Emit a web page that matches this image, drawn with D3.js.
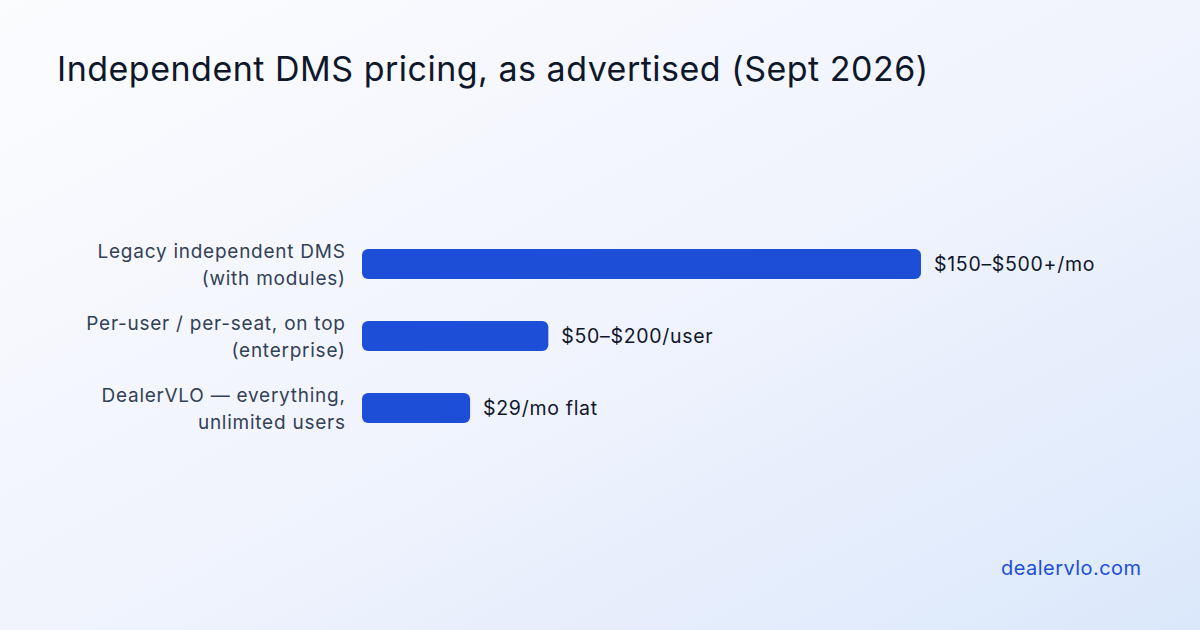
<!DOCTYPE html>
<html>
<head>
<meta charset="utf-8">
<script src="https://cdn.jsdelivr.net/npm/d3@7"></script>
<style>
  html, body { margin: 0; padding: 0; }
  body { width: 1200px; height: 630px; overflow: hidden; font-family: Inter, "Noto Sans", sans-serif; }
</style>
</head>
<body>
<div id="chart"></div>
<script>
// categories (two lines each) and advertised starting price used for bar length
const categories = [
	["Legacy independent DMS", "(with modules)"],
	["Per-user / per-seat, on top", "(enterprise)"],
	["DealerVLO \u2014 everything,", "unlimited users"]
];
const values = [150, 50, 29];
const valueLabels = ["$150\u2013$500+/mo", "$50\u2013$200/user", "$29/mo flat"];

const W = 1200, H = 630;

const svg = d3.select("#chart")
	.append("svg")
	.attr("width", W)
	.attr("height", H);

// background gradient
const grad = svg.append("defs")
	.append("linearGradient")
	.attr("id", "bg")
	.attr("x1", "0%").attr("y1", "0%")
	.attr("x2", "100%").attr("y2", "100%");
grad.append("stop").attr("offset", "0%").attr("stop-color", "#fbfcfe");
grad.append("stop").attr("offset", "50%").attr("stop-color", "#f1f4fd");
grad.append("stop").attr("offset", "100%").attr("stop-color", "#dbe8fb");

svg.append("rect")
	.attr("width", W)
	.attr("height", H)
	.attr("fill", "url(#bg)");

svg.append("text")
	.attr("x", 57)
	.attr("y", 81)
	.style("font-size", "34px")
	.style("letter-spacing", "0.5px")
	.style("fill", "#0f172a")
	.text("Independent DMS pricing, as advertised (Sept 2026)");

// scales
const x = d3.scaleLinear()
	.domain([0, d3.max(values)])
	.range([362, 921]);

const y = d3.scaleBand()
	.domain(d3.range(values.length))
	.range([228, 444])
	.paddingInner(0.5834)
	.paddingOuter(0.2917);

const rows = svg.selectAll("g.row")
	.data(values.map((v, i) => ({v, i})))
	.join("g")
	.attr("class", "row");

rows.append("rect")
	.attr("x", x(0))
	.attr("y", d => y(d.i))
	.attr("width", d => x(d.v) - x(0))
	.attr("height", y.bandwidth())
	.attr("rx", 6)
	.attr("fill", "#1d4ed8");

rows.append("text")
	.attr("x", d => x(d.v) + 13)
	.attr("y", d => y(d.i) + y.bandwidth() / 2)
	.attr("dy", "0.35em")
	.style("font-size", "19.5px")
	.style("letter-spacing", "0.7px")
	.style("fill", "#0f172a")
	.text(d => valueLabels[d.i]);

const lab = rows.append("text")
	.attr("text-anchor", "end")
	.style("font-size", "19px")
	.style("letter-spacing", "0.75px")
	.style("fill", "#334155");

lab.selectAll("tspan")
	.data(d => categories[d.i].map((t, k) => ({t, k, c: y(d.i) + y.bandwidth() / 2})))
	.join("tspan")
	.attr("x", 345.7)
	.attr("y", d => d.c - 6 + d.k * 27)
	.text(d => d.t);

svg.append("text")
	.attr("x", 1141.5)
	.attr("y", 575)
	.attr("text-anchor", "end")
	.style("font-size", "20px")
	.style("letter-spacing", "0.45px")
	.style("fill", "#1d4ed8")
	.text("dealervlo.com");
</script>
</body>
</html>
